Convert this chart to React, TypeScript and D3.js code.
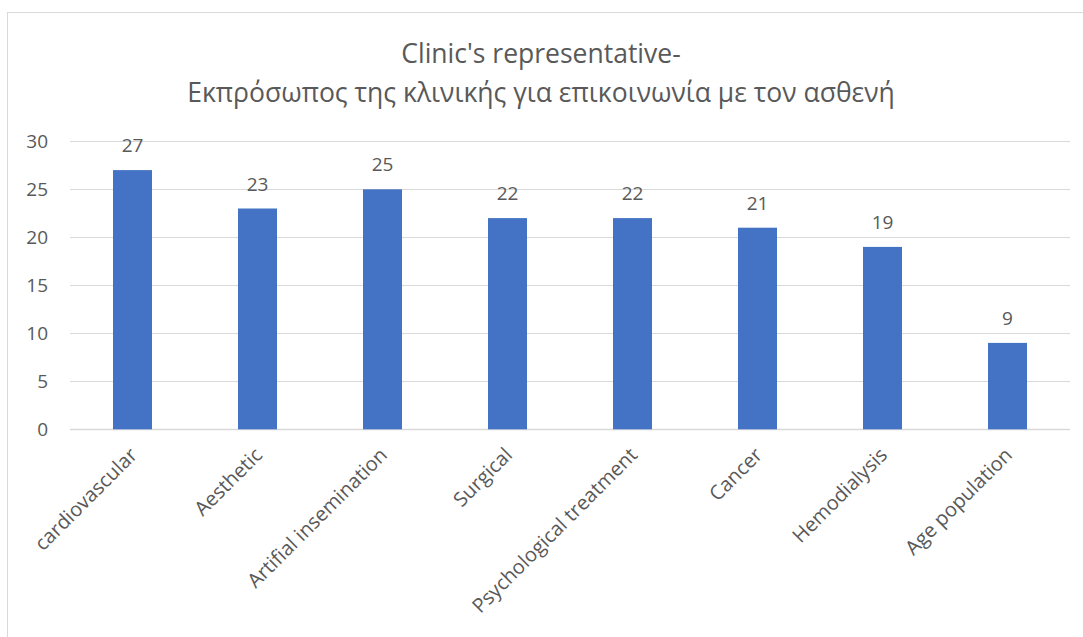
import React from "react";
import * as d3 from "d3";

const categories = [
  "cardiovascular",
  "Aesthetic",
  "Artifial insemination",
  "Surgical",
  "Psychological treatment",
  "Cancer",
  "Hemodialysis",
  "Age population",
];
const values = [27, 23, 25, 22, 22, 21, 19, 9];
const yTicks = [0, 5, 10, 15, 20, 25, 30];
const titleLines = [
  "Clinic's representative-",
  "Εκπρόσωπος της κλινικής για επικοινωνία με τον ασθενή",
];

const W = 1083;
const H = 637;
const plot = { left: 70, right: 1070, top: 141.3, bottom: 429.3 };
const font = "'Open Sans', 'Noto Sans', sans-serif";
const textColor = "#595959";

export default function App() {
  const x = d3
    .scaleBand<string>()
    .domain(categories)
    .range([plot.left, plot.right])
    .paddingInner(0.688)
    .paddingOuter(0.344);
  const y = d3.scaleLinear().domain([0, 30]).range([plot.bottom, plot.top]);

  return (
    <svg
      width={W}
      height={H}
      style={{ position: "absolute", left: 0, top: 0 }}
      fontFamily={font}
    >
      <rect x={0} y={0} width={W} height={H} fill="#fff" />
      <rect
        x={7.5}
        y={12.5}
        width={W + 10}
        height={H + 10}
        fill="none"
        stroke="#d9d9d9"
        strokeWidth={1}
      />
      {titleLines.map((t, i) => (
        <text
          key={i}
          x={541}
          y={63 + i * 39}
          textAnchor="middle"
          fontSize={26.5}
          fill={textColor}
        >
          {t}
        </text>
      ))}
      {yTicks.map((t) => (
        <g key={t}>
          <line
            x1={plot.left}
            x2={plot.right}
            y1={Math.round(y(t)) + 0.5}
            y2={Math.round(y(t)) + 0.5}
            stroke="#d9d9d9"
            strokeWidth={t === 0 ? 1.5 : 1}
          />
          <text
            x={48}
            y={y(t)}
            dy="0.35em"
            textAnchor="end"
            fontSize={19}
            fill={textColor}
          >
            {t}
          </text>
        </g>
      ))}
      {categories.map((c, i) => {
        const bx = x(c)!;
        const bw = x.bandwidth();
        const cx = bx + bw / 2;
        return (
          <g key={c}>
            <rect
              x={bx}
              y={y(values[i])}
              width={bw}
              height={y(0) - y(values[i])}
              fill="#4472C4"
            />
            <text
              x={cx}
              y={y(values[i]) - 18}
              textAnchor="middle"
              fontSize={19}
              fill={textColor}
            >
              {values[i]}
            </text>
            <text
              transform={`translate(${cx + 6},${plot.bottom + 27}) rotate(-45)`}
              textAnchor="end"
              fontSize={20}
              fill={textColor}
            >
              {c}
            </text>
          </g>
        );
      })}
    </svg>
  );
}
